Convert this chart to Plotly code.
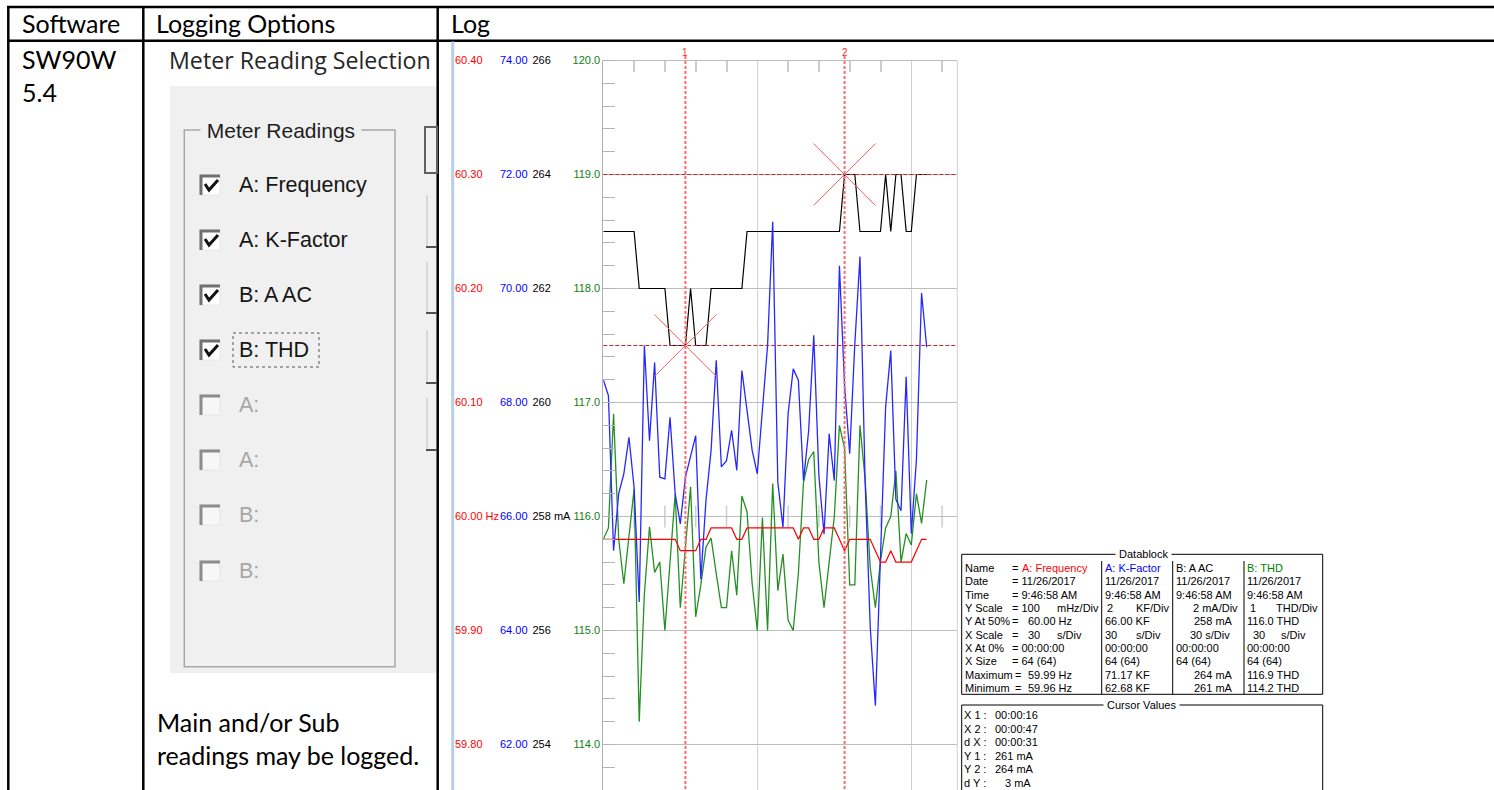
import plotly.graph_objects as go

W, H = 1494, 790

# ---------------- logged samples: 64 points, 1 s apart ----------------
t_sec = list(range(64))

freq_hz = [
    59.98, 59.98, 59.98, 59.98, 59.98, 59.98, 59.98, 59.98, 59.98, 59.98,
    59.98, 59.98, 59.98, 59.98, 59.98, 59.97, 59.97, 59.97, 59.97, 59.98,
    59.98, 59.99, 59.99, 59.99, 59.99, 59.99, 59.98, 59.98, 59.99, 59.99,
    59.99, 59.99, 59.99, 59.99, 59.99, 59.99, 59.99, 59.99, 59.98, 59.99,
    59.99, 59.98, 59.98, 59.99, 59.99, 59.99, 59.98, 59.97, 59.98, 59.98,
    59.98, 59.98, 59.98, 59.97, 59.96, 59.96, 59.97, 59.96, 59.96, 59.96,
    59.96, 59.97, 59.98, 59.98,
]

kfactor = [
    68.40, 68.12, 65.40, 66.40, 66.75, 67.39, 66.51, 64.50, 69.00, 67.33,
    68.70, 66.69, 66.66, 67.74, 66.40, 65.87, 66.69, 67.04, 67.42, 64.90,
    66.28, 67.16, 68.74, 66.87, 66.98, 67.51, 66.81, 68.56, 67.86, 67.16,
    66.75, 67.86, 69.00, 71.17, 66.60, 65.81, 67.80, 68.59, 68.39, 66.63,
    67.50, 69.18, 66.72, 65.69, 67.45, 66.63, 70.40, 68.30, 67.10, 69.03,
    70.56, 66.63, 64.06, 62.68, 65.23, 67.92, 68.91, 66.30, 66.10, 68.45,
    65.70, 67.00, 69.92, 68.97,
]

a_ac_ma = [
    263, 263, 263, 263, 263, 263, 263, 262, 262, 262,
    262, 262, 262, 261, 261, 261, 261, 262, 261, 261,
    261, 262, 262, 262, 262, 262, 262, 262, 263, 263,
    263, 263, 263, 263, 263, 263, 263, 263, 263, 263,
    263, 263, 263, 263, 263, 263, 263, 264, 264, 264,
    263, 263, 263, 263, 263, 264, 263, 264, 264, 263,
    263, 264, 264, 264,
]

thd = [
    115.80, 115.90, 116.90, 115.80, 115.41, 115.80, 116.24, 114.20, 115.32, 115.91,
    115.51, 115.60, 115.00, 115.60, 116.20, 115.20, 115.76, 116.26, 115.12, 115.40,
    115.73, 115.81, 115.50, 115.20, 115.20, 115.70, 115.31, 116.18, 116.04, 115.41,
    115.00, 115.99, 115.00, 116.29, 115.35, 115.67, 115.09, 115.00, 115.50, 116.30,
    116.50, 116.57, 115.60, 115.20, 115.60, 116.00, 116.80, 116.60, 115.40, 115.40,
    116.80, 116.33, 115.55, 115.20, 115.61, 115.90, 116.00, 116.40, 115.60, 115.85,
    115.75, 116.20, 115.94, 116.32,
]

# channel names and colours
names = ["A: Frequency", "A: K-Factor", "B: A AC", "B: THD"]

# scale settings (value at 50 % and value per division)
freq_mid, freq_div = 60.00, 0.1
kf_mid, kf_div = 66.00, 2.0
aac_mid, aac_div = 258.0, 2.0
thd_mid, thd_div = 116.0, 1.0
x_div_s = 30

# cursor readings
cursor_x1, cursor_x2 = 16, 47
cursor_y1, cursor_y2 = 261, 264

# axis tick labels, bottom to top
freq_ticks = ["59.80", "59.90", "60.00 Hz", "60.10", "60.20", "60.30", "60.40"]
kf_ticks = ["62.00", "64.00", "66.00", "68.00", "70.00", "72.00", "74.00"]
aac_ticks = ["254", "256", "258 mA", "260", "262", "264", "266"]
thd_ticks = ["114.0", "115.0", "116.0", "117.0", "118.0", "119.0", "120.0"]

# ---------------- geometry helpers (pixel -> paper) ----------------
PLOT_L, PLOT_R, PLOT_T = 603.3, 957.3, 60.5
DIV_PX_Y, DIV_PX_X = 114.0, 154.0
DIVS_UP = 4
DIVS_DOWN = (H - PLOT_T) / DIV_PX_Y - DIVS_UP


def px(x):
    return x / W


def py(y):
    return 1 - y / H


def yrange(mid, div):
    return [mid - DIVS_DOWN * div, mid + DIVS_UP * div + 1e-9]


def tickvals(mid, div):
    return [round(mid + k * div, 4) for k in range(-2, 5)]


shapes = []
annotations = []


def line(x0, y0, x1, y1, color="black", width=1, dash=None, layer="above"):
    shapes.append(dict(type="line", xref="paper", yref="paper",
                       x0=px(x0), y0=py(y0), x1=px(x1), y1=py(y1),
                       line=dict(color=color, width=width, dash=dash), layer=layer))


def rect(x0, y0, x1, y1, fill=None, color=None, width=0, dash=None, layer="below"):
    shapes.append(dict(type="rect", xref="paper", yref="paper",
                       x0=px(x0), y0=py(y0), x1=px(x1), y1=py(y1),
                       fillcolor=fill if fill else "rgba(0,0,0,0)",
                       line=dict(color=color if color else "rgba(0,0,0,0)", width=width, dash=dash),
                       layer=layer))


def path(points, color, width, layer="above"):
    d = "M " + " L ".join(f"{px(a):.6f},{py(b):.6f}" for a, b in points)
    shapes.append(dict(type="path", xref="paper", yref="paper", path=d,
                       line=dict(color=color, width=width), layer=layer))


def text(x, y, s, size=11, color="black", family="Liberation Sans, Arial, sans-serif",
         anchor="left", bg=None):
    a = dict(x=px(x), y=py(y), xref="paper", yref="paper", text=s, showarrow=False,
             xanchor=anchor, yanchor="middle", borderpad=0,
             font=dict(size=size, color=color, family=family))
    if bg:
        a["bgcolor"] = bg
    annotations.append(a)


SYS = "Liberation Sans, Arial, sans-serif"
DOC = "Lato, sans-serif"
UI = "Open Sans, sans-serif"

# ---------------- document table ----------------
line(7, 7, W, 7, width=2.5)
line(7, 40.7, W, 40.7, width=2.5)
line(8.3, 6, 8.3, H, width=2.5)
line(143.3, 6, 143.3, H, width=2.5)
line(437.7, 6, 437.7, H, width=2.5)

text(21, 23, "Software", size=25, family=DOC)
text(155, 23, "Logging Options", size=25, family=DOC)
text(450, 23, "Log", size=25, family=DOC)
text(21, 59, "SW90W", size=25, family=DOC)
text(21, 92, "5.4", size=25, family=DOC)
text(156, 722, "Main and/or Sub", size=25, family=DOC)
text(156, 755, "readings may be logged.", size=25, family=DOC)

# ---------------- meter reading selection dialog ----------------
rect(170, 86, 437, 673, fill="#f0f0f0")
text(168, 60, "Meter Reading Selection", size=23.2, color="#262626", family=UI)
rect(184.3, 130, 395, 666.7, color="#a8a8a8", width=1.5, layer="above")
text(200, 130, " Meter Readings ", size=21, color="#1e1e1e", family=SYS, bg="#f0f0f0")

rows_y = [185, 240, 295, 350, 405, 460, 515, 571]
row_labels = ["A: Frequency", "A: K-Factor", "B: A AC", "B: THD", "A:", "A:", "B:", "B:"]
row_checked = [True, True, True, True, False, False, False, False]
for yy, lab, chk in zip(rows_y, row_labels, row_checked):
    rect(200, yy - 10, 220, yy + 10, fill="#ffffff" if chk else "#f7f7f7",
         color="#e6e6e6", width=1, layer="above")
    path([(201, yy + 10), (201, yy - 9), (220, yy - 9)],
         "#707070" if chk else "#8c8c8c", 3)
    if chk:
        path([(205, yy - 1), (209, yy + 5), (218, yy - 5)], "#111111", 3)
    text(238, yy, lab, size=21.5, color="#161616" if chk else "#a6a6a6", family=SYS)
rect(233, 333, 319, 367, color="#555555", width=1, dash="dot", layer="above")

# edges of the neighbouring controls
rect(425, 127, 437, 173, color="#606060", width=2, layer="above")
for y_top, y_bot in [(195, 247), (262, 313), (330, 383), (398, 450)]:
    line(427, y_top, 427, y_bot, color="#d8d8d8", width=2)
    line(426, y_bot, 437, y_bot, color="#505050", width=2)

# window edge next to the log plot
line(452.7, 41.5, 452.7, H, color="#b9cfe6", width=3)

# ---------------- log plot ----------------
fig = go.Figure()
fig.add_trace(go.Scatter(x=t_sec, y=thd, yaxis="y", mode="lines", name=names[3],
                         line=dict(color="#239023", width=1.3), hoverinfo="skip"))
fig.add_trace(go.Scatter(x=t_sec, y=a_ac_ma, yaxis="y2", mode="lines", name=names[2],
                         line=dict(color="#000000", width=1.2), hoverinfo="skip"))
fig.add_trace(go.Scatter(x=t_sec, y=kfactor, yaxis="y3", mode="lines", name=names[1],
                         line=dict(color="#2626ff", width=1.3), hoverinfo="skip"))
fig.add_trace(go.Scatter(x=t_sec, y=freq_hz, yaxis="y4", mode="lines", name=names[0],
                         line=dict(color="#ff0000", width=1.2), hoverinfo="skip"))

x_max = (PLOT_R - PLOT_L) / DIV_PX_X * x_div_s
minor_s = x_div_s / 5

# small ticks across the 50 % line
k = minor_s
while k < x_max:
    if abs(k / x_div_s - round(k / x_div_s)) > 1e-6:
        shapes.append(dict(type="line", xref="x", yref="y", x0=k, x1=k,
                           ysizemode="pixel", yanchor=thd_mid, y0=-11, y1=11,
                           line=dict(color="#cdcdcd", width=1.5), layer="below"))
    k += minor_s

# plot right edge
line(PLOT_R, PLOT_T, PLOT_R, H, color="#d0d0d0", width=1)

# cursors
for cx, cy, lab in [(cursor_x1, cursor_y1, "1"), (cursor_x2, cursor_y2, "2")]:
    shapes.append(dict(type="line", xref="x", yref="paper", x0=cx, x1=cx,
                       y0=py(56), y1=0, line=dict(color="#ff6a6a", width=2, dash="3px,2px"),
                       layer="above"))
    shapes.append(dict(type="line", xref="paper", yref="y2", x0=px(PLOT_L), x1=px(PLOT_R),
                       y0=cy, y1=cy, line=dict(color="#d42020", width=1, dash="4px,2px"),
                       layer="above"))
    for s in (1, -1):
        shapes.append(dict(type="line", xref="x", yref="y2",
                           xsizemode="pixel", xanchor=cx, x0=-31, x1=31,
                           ysizemode="pixel", yanchor=cy, y0=-31 * s, y1=31 * s,
                           line=dict(color="#ff6060", width=1), layer="above"))
    annotations.append(dict(x=cx, y=py(52), xref="x", yref="paper", text=lab,
                            showarrow=False, xanchor="center", yanchor="middle",
                            font=dict(size=10, color="#ff2a2a", family=SYS)))

# ---------------- datablock ----------------
rect(958, 546, 1330, H, fill="#ffffff", layer="above")
rect(961.7, 554.3, 1322.7, 694.3, color="black", width=1, layer="above")
text(1143, 554.3, " Datablock ", size=11, family=SYS, anchor="center", bg="#ffffff")
for xs in (1101.7, 1172.7, 1244):
    line(xs, 561, xs, 694.3, color="black", width=1)

row_y = [568 + 13.33 * i for i in range(10)]
labels0 = ["Name", "Date", "Time", "Y Scale", "Y At 50%", "X Scale", "X At 0%",
           "X Size", "Maximum", "Minimum"]
for yy, lab in zip(row_y, labels0):
    text(964, yy, lab)

c1, c2, c3, c4 = 1011, 1103.5, 1174.5, 1246
chan_colors = ["#ff0000", "#0000ff", "#000000", "#008000"]
text(c1, row_y[0], "=")
text(c1 + 10, row_y[0], names[0], color=chan_colors[0])
text(c2, row_y[0], names[1], color=chan_colors[1])
text(c3, row_y[0], names[2], color=chan_colors[2])
text(c4, row_y[0], names[3], color=chan_colors[3])
for c in (c2, c3, c4):
    text(c, row_y[1], "11/26/2017")
    text(c, row_y[2], "9:46:58 AM")
    text(c, row_y[6], "00:00:00")
    text(c, row_y[7], f"{len(t_sec)} ({len(t_sec)})")
text(c1, row_y[1], "= 11/26/2017")
text(c1, row_y[2], "= 9:46:58 AM")
text(c1, row_y[6], "= 00:00:00")
text(c1, row_y[7], f"= {len(t_sec)} ({len(t_sec)})")

# Y Scale row
text(c1, row_y[3], f"= {freq_div * 1000:.0f}")
text(1056, row_y[3], "mHz/Div")
text(1106, row_y[3], f"{kf_div:.0f}")
text(1135, row_y[3], "KF/Div")
text(1239, row_y[3], f"{aac_div:.0f} mA/Div", anchor="right")
text(1249, row_y[3], f"{thd_div:.0f}")
text(1275, row_y[3], "THD/Div")
# Y At 50% row
text(c1, row_y[4], "=")
text(1027, row_y[4], f"{freq_mid:.2f} Hz")
text(c2, row_y[4], f"{kf_mid:.2f} KF")
text(1193, row_y[4], f"{aac_mid:.0f} mA")
text(c4, row_y[4], f"{thd_mid:.1f} THD")
# X Scale row
text(c1, row_y[5], "=")
text(1027, row_y[5], f"{x_div_s}")
text(1056, row_y[5], "s/Div")
text(c2, row_y[5], f"{x_div_s}")
text(1135, row_y[5], "s/Div")
text(1189, row_y[5], f"{x_div_s} s/Div")
text(1252, row_y[5], f"{x_div_s}")
text(1280, row_y[5], "s/Div")
# Maximum / Minimum rows
for r, fn in ((8, max), (9, min)):
    text(c1 + 2.5, row_y[r], "=")
    text(1027, row_y[r], f"{fn(freq_hz):.2f} Hz")
    text(c2, row_y[r], f"{fn(kfactor):.2f} KF")
    text(1193, row_y[r], f"{fn(a_ac_ma):.0f} mA")
    text(c4, row_y[r], f"{fn(thd):.1f} THD")

# cursor values box
rect(961.7, 705, 1322.7, H + 5, color="black", width=1, layer="above")
text(1141.7, 705, " Cursor Values ", size=11, family=SYS, anchor="center", bg="#ffffff")


def hms(s):
    return f"00:{s // 60:02d}:{s % 60:02d}"


cv_rows = [("X 1 :", hms(cursor_x1)), ("X 2 :", hms(cursor_x2)),
           ("d X :", hms(cursor_x2 - cursor_x1)),
           ("Y 1 :", f"{cursor_y1} mA"), ("Y 2 :", f"{cursor_y2} mA"),
           ("d Y :", f"{cursor_y2 - cursor_y1} mA")]
for i, (lab, val) in enumerate(cv_rows):
    yy = 715 + 13.5 * i
    text(963, yy, lab)
    text(1004 if lab.startswith("d Y") else 994.5, yy, val)

# ---------------- axes ----------------
tick_font = dict(size=11, family=SYS)
y_dom = [0, py(PLOT_T)]

fig.update_layout(
    width=W, height=H,
    margin=dict(l=0, r=0, t=0, b=0, pad=0, autoexpand=False),
    paper_bgcolor="white", plot_bgcolor="white",
    showlegend=False,
    xaxis=dict(domain=[px(PLOT_L), px(PLOT_R)], range=[0, x_max], side="top",
               anchor="y", showline=True, linecolor="#bdbdbd", linewidth=1,
               showgrid=True, gridcolor="#d2d2d2", gridwidth=1, tick0=0, dtick=x_div_s,
               ticks="", showticklabels=False, zeroline=False, automargin=False,
               minor=dict(dtick=minor_s, tick0=0, ticks="inside", ticklen=11,
                          tickcolor="#cdcdcd", tickwidth=1.5, showgrid=False)),
    yaxis=dict(domain=y_dom, range=yrange(thd_mid, thd_div), anchor="x", side="left",
               showline=True, linecolor="#b0b0b0", linewidth=1, automargin=False,
               showgrid=True, gridcolor="#bdbdbd", gridwidth=1,
               tickvals=tickvals(thd_mid, thd_div), ticktext=thd_ticks,
               tickfont=dict(color="#108010", **tick_font), ticks="", zeroline=False,
               minor=dict(dtick=thd_div / 5, tick0=thd_mid, ticks="inside", ticklen=12,
                          tickcolor="#b4b4b4", tickwidth=1, showgrid=False)),
    yaxis2=dict(overlaying="y", anchor="free", side="right", position=px(531.5),
                range=yrange(aac_mid, aac_div), tickvals=tickvals(aac_mid, aac_div),
                ticktext=aac_ticks, tickfont=dict(color="#000000", **tick_font),
                showgrid=False, showline=False, zeroline=False, ticks="", automargin=False),
    yaxis3=dict(overlaying="y", anchor="free", side="right", position=px(499),
                range=yrange(kf_mid, kf_div), tickvals=tickvals(kf_mid, kf_div),
                ticktext=kf_ticks, tickfont=dict(color="#0000ff", **tick_font),
                showgrid=False, showline=False, zeroline=False, ticks="", automargin=False),
    yaxis4=dict(overlaying="y", anchor="free", side="right", position=px(454),
                range=yrange(freq_mid, freq_div), tickvals=tickvals(freq_mid, freq_div),
                ticktext=freq_ticks, tickfont=dict(color="#ff0000", **tick_font),
                showgrid=False, showline=False, zeroline=False, ticks="", automargin=False),
    shapes=shapes,
    annotations=annotations,
)

fig.write_html("out.html")
